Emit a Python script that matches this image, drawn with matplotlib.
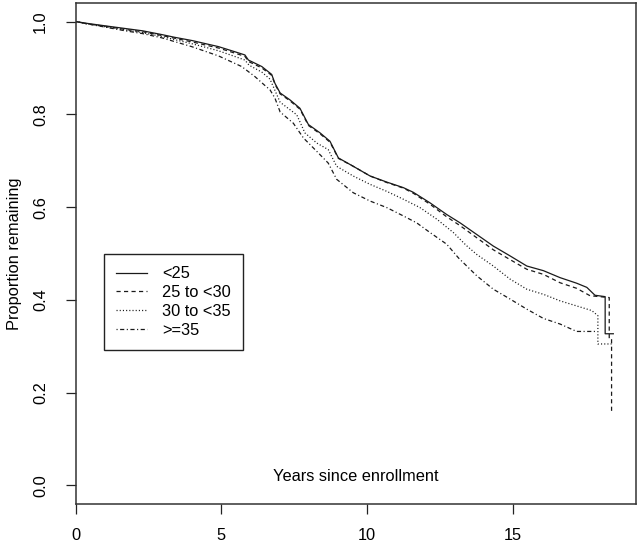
import matplotlib
matplotlib.use("Agg")
import matplotlib.pyplot as plt

plt.rcParams["font.family"] = ["Liberation Sans", "DejaVu Sans"]
plt.rcParams["lines.scale_dashes"] = False

# Kaplan-Meier curves (years, proportion remaining)
T_LT25 = [0, 0.4, 1.1, 1.7, 2.3, 2.95, 3.4, 4.0, 4.55, 4.9, 5.36, 5.81, 5.93,
          6.39, 6.73, 6.84, 7.02, 7.36, 7.70, 7.99, 8.39, 8.73, 9.02, 9.53,
          10.11, 10.68, 11.25, 11.59, 12.17, 12.74, 13.2, 13.77, 14.34, 14.91,
          15.49, 16.06, 16.63, 17.20, 17.55, 17.83, 18.18, 18.18, 18.46]
S_LT25 = [1.0, 0.996, 0.990, 0.985, 0.980, 0.972, 0.966, 0.959, 0.951, 0.946,
          0.937, 0.928, 0.917, 0.903, 0.886, 0.867, 0.846, 0.831, 0.813, 0.778,
          0.760, 0.742, 0.706, 0.688, 0.667, 0.654, 0.642, 0.632, 0.609, 0.584,
          0.566, 0.541, 0.516, 0.495, 0.473, 0.463, 0.448, 0.436, 0.427, 0.410,
          0.407, 0.327, 0.327]

T_25_30 = [0, 0.4, 1.1, 1.7, 2.3, 2.95, 3.4, 4.0, 4.55, 4.9, 5.36, 5.81, 5.93,
           6.39, 6.73, 6.84, 7.02, 7.36, 7.70, 7.99, 8.39, 8.73, 9.02, 9.53,
           10.11, 10.68, 11.25, 11.59, 12.17, 12.74, 13.2, 13.77, 14.34, 14.91,
           15.49, 16.06, 16.63, 17.20, 17.66, 18.32, 18.32, 18.40, 18.40]
S_25_30 = [1.0, 0.995, 0.989, 0.983, 0.978, 0.970, 0.964, 0.956, 0.948, 0.943,
           0.934, 0.925, 0.914, 0.900, 0.884, 0.865, 0.844, 0.829, 0.811, 0.776,
           0.758, 0.740, 0.705, 0.688, 0.667, 0.653, 0.641, 0.630, 0.606, 0.579,
           0.560, 0.534, 0.508, 0.487, 0.466, 0.455, 0.437, 0.425, 0.409, 0.405,
           0.316, 0.316, 0.155]

T_30_35 = [0, 0.4, 1.1, 1.7, 2.3, 2.95, 3.4, 4.0, 4.55, 4.9, 5.36, 5.81, 5.95,
           6.39, 6.67, 7.02, 7.59, 7.87, 8.28, 8.67, 8.96, 9.53, 10.11, 10.68,
           11.25, 11.82, 12.40, 12.97, 13.4, 13.77, 14.34, 14.91, 15.49, 16.06,
           16.63, 17.20, 17.72, 17.93, 17.93, 18.40]
S_30_35 = [1.0, 0.995, 0.988, 0.982, 0.976, 0.968, 0.961, 0.952, 0.943, 0.937,
           0.927, 0.917, 0.906, 0.891, 0.876, 0.826, 0.799, 0.760, 0.738, 0.724,
           0.688, 0.667, 0.649, 0.634, 0.617, 0.599, 0.574, 0.545, 0.518, 0.498,
           0.473, 0.445, 0.423, 0.412, 0.398, 0.387, 0.377, 0.366, 0.305, 0.305]

T_GE35 = [0, 0.4, 1.1, 1.7, 2.3, 2.95, 3.98, 4.9, 5.7, 6.16, 6.5, 6.67, 6.84,
          7.02, 7.47, 7.82, 8.28, 8.67, 8.96, 9.53, 10.11, 10.68, 11.25, 11.71,
          12.17, 12.74, 13.15, 13.77, 14.34, 14.91, 15.49, 16.06, 16.63, 17.20,
          17.90]
S_GE35 = [1.0, 0.995, 0.987, 0.980, 0.974, 0.965, 0.946, 0.926, 0.903, 0.881,
          0.862, 0.853, 0.835, 0.805, 0.781, 0.749, 0.720, 0.695, 0.660, 0.631,
          0.613, 0.599, 0.581, 0.566, 0.545, 0.520, 0.490, 0.452, 0.423, 0.402,
          0.380, 0.360, 0.348, 0.332, 0.332]

GROUPS = ["<25", "25 to <30", "30 to <35", ">=35"]
CURVES = [(T_LT25, S_LT25), (T_25_30, S_25_30), (T_30_35, S_30_35), (T_GE35, S_GE35)]
STYLES = ["-", (0, (3.0, 2.4)), (0, (0.8, 1.5)), (0, (0.8, 1.8, 3.0, 1.8))]

X_TICKS = [0, 5, 10, 15]
Y_TICKS = [0.0, 0.2, 0.4, 0.6, 0.8, 1.0]
FS = 11.8

fig = plt.figure(figsize=(6.4, 5.44), dpi=100)
ax = fig.add_axes([0.1183, 0.0735, 0.8755, 0.921])

for (t, s), lab, ls in zip(CURVES, GROUPS, STYLES):
    ax.plot(t, s, color="#1a1a1a", lw=0.9, linestyle=ls, label=lab)

ax.set_xlim(0, 19.24)
ax.set_ylim(-0.04, 1.04)
ax.set_xticks(X_TICKS)
ax.set_yticks(Y_TICKS)
ax.set_yticklabels([f"{v:.1f}" for v in Y_TICKS], rotation=90, va="center")
ax.tick_params(axis="x", direction="out", length=7.5, width=0.9, pad=10,
               labelsize=FS, color="#222222")
ax.tick_params(axis="y", direction="out", length=7, width=0.9, pad=13,
               labelsize=FS, color="#222222")
for sp in ax.spines.values():
    sp.set_linewidth(1.1)
    sp.set_color("#333333")

ax.set_ylabel("Proportion remaining", fontsize=FS, labelpad=8)
ax.text(0.5, 0.054, "Years since enrollment", transform=ax.transAxes,
        ha="center", va="center", fontsize=FS)

leg = ax.legend(loc="upper left", bbox_to_anchor=(0.0505, 0.499),
                borderaxespad=0, fontsize=FS, handlelength=1.85,
                handletextpad=0.95, labelspacing=0.24, borderpad=0.75,
                fancybox=False, framealpha=1)
leg.get_frame().set_edgecolor("#222222")
leg.get_frame().set_linewidth(1.0)

fig.savefig("out.png", dpi=100)
